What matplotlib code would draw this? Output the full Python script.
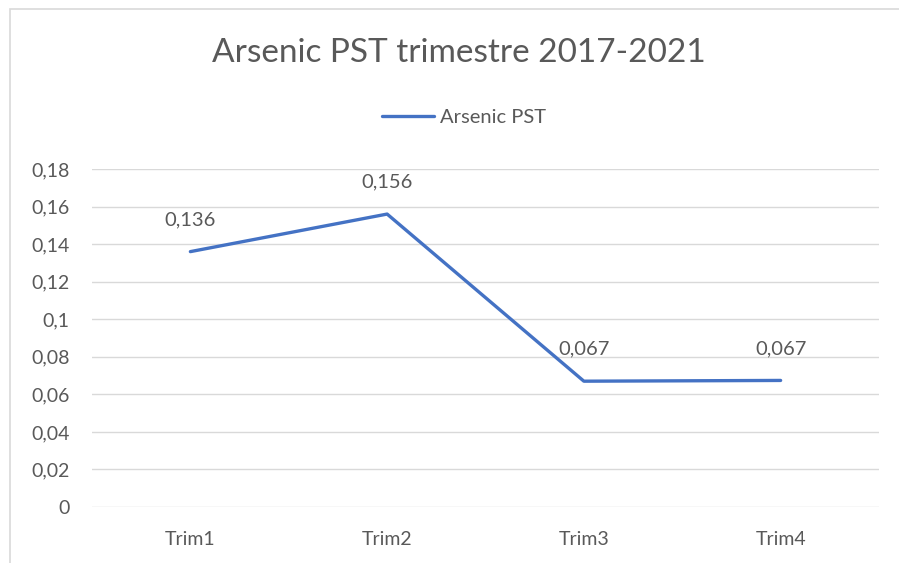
import matplotlib.pyplot as plt
from matplotlib.patches import Rectangle

# data
categories = ['Trim1', 'Trim2', 'Trim3', 'Trim4']
arsenic_pst = [0.136, 0.156, 0.067, 0.0674]
value_labels = ['0,136', '0,156', '0,067', '0,067']
y_ticks = [0, 0.02, 0.04, 0.06, 0.08, 0.1, 0.12, 0.14, 0.16, 0.18]
y_tick_labels = ['0', '0,02', '0,04', '0,06', '0,08', '0,1', '0,12', '0,14', '0,16', '0,18']

plt.rcParams['font.family'] = ['Lato', 'DejaVu Sans']
txt = '#595959'
blue = '#4472C4'
grid = '#D9D9D9'

fig = plt.figure(figsize=(8.99, 5.63), dpi=100)
ax = fig.add_axes([92/899, 1-507/563, (879-92)/899, (507-169)/563])

# outer chart frame (right and bottom edges fall outside the image)
fig.patches.append(Rectangle((10/899, -0.05), 1.0, 1.05-9/563,
                             transform=fig.transFigure, fill=False,
                             edgecolor=grid, lw=1.2))

x = range(len(categories))
line, = ax.plot(x, arsenic_pst, color=blue, lw=2.4, solid_capstyle='round',
                label='Arsenic PST', zorder=3)

for i, (v, lab) in enumerate(zip(arsenic_pst, value_labels)):
    ax.annotate(lab, (i, v), xytext=(0, 23), textcoords='offset points',
                ha='center', va='center', fontsize=14.5, color=txt)

ax.set_xlim(-0.5, 3.5)
ax.set_ylim(0, 0.18)
ax.set_yticks(y_ticks)
ax.set_yticklabels(y_tick_labels)
ax.set_xticks(list(x))
ax.set_xticklabels(categories)
ax.tick_params(length=0, labelsize=14, labelcolor=txt)
ax.tick_params(axis='y', pad=16)
ax.tick_params(axis='x', pad=17)
ax.grid(axis='y', color=grid, lw=1)
ax.set_axisbelow(True)
for s in ax.spines.values():
    s.set_visible(False)

fig.text(459/899, 1-53/563, 'Arsenic PST trimestre 2017-2021', ha='center',
         va='center', fontsize=24, color=txt)
fig.legend(handles=[line], loc='center', bbox_to_anchor=(464/899, 1-117/563),
           frameon=False, fontsize=14.5, labelcolor=txt, handlelength=2.6,
           handletextpad=0.3)

fig.savefig('out.png', dpi=100)
